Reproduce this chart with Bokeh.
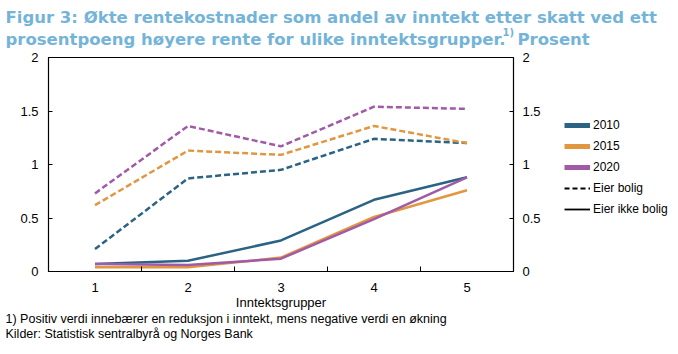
from bokeh.plotting import figure
from bokeh.layouts import column, row
from bokeh.models import (Range1d, LinearAxis, FixedTicker, Label, Legend, LegendItem)
from bokeh.embed import file_html
from bokeh.resources import INLINE

groups = [1, 2, 3, 4, 5]
years = ["2010", "2015", "2020"]
colors = {"2010": "#2b6384", "2015": "#e0973f", "2020": "#a05aa6"}

# Eier bolig (dashed)
owner = {
    "2010": [0.21, 0.87, 0.95, 1.24, 1.20],
    "2015": [0.62, 1.13, 1.09, 1.36, 1.20],
    "2020": [0.73, 1.36, 1.17, 1.54, 1.52],
}
# Eier ikke bolig (solid)
nonowner = {
    "2010": [0.07, 0.10, 0.29, 0.67, 0.88],
    "2015": [0.04, 0.04, 0.13, 0.51, 0.76],
    "2020": [0.07, 0.06, 0.12, 0.49, 0.88],
}
y_ticks = [0, 0.5, 1, 1.5, 2]
x_label = "Inntektsgrupper"
title1 = "Figur 3: Økte rentekostnader som andel av inntekt etter skatt ved ett"
title2 = "prosentpoeng høyere rente for ulike inntektsgrupper."
title_note = "1)"
title3 = "Prosent"
foot1 = "1) Positiv verdi innebærer en reduksjon i inntekt, mens negative verdi en økning"
foot2 = "Kilder: Statistisk sentralbyrå og Norges Bank"
legend_owner = "Eier bolig"
legend_nonowner = "Eier ikke bolig"

FONT = "Liberation Sans"
TFONT = "DejaVu Sans"
tcol = "#74b4d8"
NAN = float("nan")


def blank(w, h):
    f = figure(width=w, height=h, output_backend="svg", toolbar_location=None,
               x_range=Range1d(0, w), y_range=Range1d(h, 0),
               min_border=0, x_axis_location=None, y_axis_location=None)
    f.grid.visible = False
    f.outline_line_color = None
    f.background_fill_color = "white"
    f.border_fill_color = "white"
    return f


def tlabel(fig, txt, x, y, size, color, font, style="normal"):
    fig.add_layout(Label(x=x, y=y, text=txt, text_font=font, text_font_size=size,
                         text_font_style=style, text_color=color,
                         text_baseline="alphabetic", text_align="left"))


# --- title ---
top = blank(678, 49)
tlabel(top, title1, 5, 17, "16.5px", tcol, TFONT, "bold")
tlabel(top, title2, 5, 39, "16.5px", tcol, TFONT, "bold")
tlabel(top, title_note, 502, 32, "10px", tcol, TFONT, "bold")
tlabel(top, title3, 517, 39, "16.5px", tcol, TFONT, "bold")

# --- main chart ---
p = figure(width=545, height=263, output_backend="svg", toolbar_location=None,
           x_range=Range1d(0.5, 5.5), y_range=Range1d(0, 2),
           min_border_left=48, min_border_right=32, min_border_top=8,
           min_border_bottom=40, y_axis_location=None, x_axis_location=None)
p.grid.visible = False
p.outline_line_color = "black"
p.outline_line_width = 1.2
p.background_fill_color = "white"
p.border_fill_color = "white"

xt = FixedTicker(ticks=groups, minor_ticks=[1.5, 2.5, 3.5, 4.5])
xa = LinearAxis(ticker=xt, axis_label=x_label)
xa.major_tick_in = 0
xa.major_tick_out = 0
xa.minor_tick_in = 5
xa.minor_tick_out = 0
xa.axis_line_color = "black"
xa.major_label_text_font = FONT
xa.major_label_text_font_size = "13px"
xa.major_label_text_color = "black"
xa.major_label_standoff = 11
xa.axis_label_text_font = FONT
xa.axis_label_text_font_size = "13px"
xa.axis_label_text_font_style = "normal"
xa.axis_label_text_color = "black"
xa.axis_label_standoff = 0
p.add_layout(xa, "below")

for side in ["left", "right"]:
    ya = LinearAxis(ticker=FixedTicker(ticks=y_ticks))
    ya.major_tick_in = 4
    ya.major_tick_out = 0
    ya.minor_tick_in = 0
    ya.minor_tick_out = 0
    ya.axis_line_color = "black"
    ya.major_label_text_font = FONT
    ya.major_label_text_font_size = "13px"
    ya.major_label_text_color = "black"
    ya.major_label_standoff = 10 if side == "left" else 9
    p.add_layout(ya, side)

for yr in years:
    p.line(groups, owner[yr], line_color=colors[yr], line_width=2.5, line_dash="6 3")
    p.line(groups, nonowner[yr], line_color=colors[yr], line_width=2.5)

# --- legend panel ---
lf = blank(133, 263)
items = []
for yr in years:
    r = lf.line([NAN], [NAN], line_color=colors[yr], line_width=5)
    items.append(LegendItem(label=yr, renderers=[r]))
r = lf.line([NAN], [NAN], line_color="black", line_width=1.8, line_dash="5 3")
items.append(LegendItem(label=legend_owner, renderers=[r]))
r = lf.line([NAN], [NAN], line_color="black", line_width=1.8)
items.append(LegendItem(label=legend_nonowner, renderers=[r]))

leg = Legend(items=items, location=(19, 55), orientation="vertical")
leg.label_text_font = FONT
leg.label_text_font_size = "12px"
leg.label_text_color = "black"
leg.glyph_width = 26
leg.glyph_height = 14
leg.label_height = 14
leg.spacing = 7
leg.label_standoff = 3
leg.padding = 0
leg.margin = 0
leg.border_line_color = None
leg.background_fill_alpha = 0
lf.add_layout(leg, "center")

# --- footnotes ---
foot = blank(678, 42)
tlabel(foot, foot1, 5, 6, "12.5px", "black", FONT)
tlabel(foot, foot2, 5, 21, "12.5px", "black", FONT)

layout = column(top, row(p, lf, spacing=0), foot, spacing=0)
open("out.html", "w").write(file_html(layout, INLINE))
